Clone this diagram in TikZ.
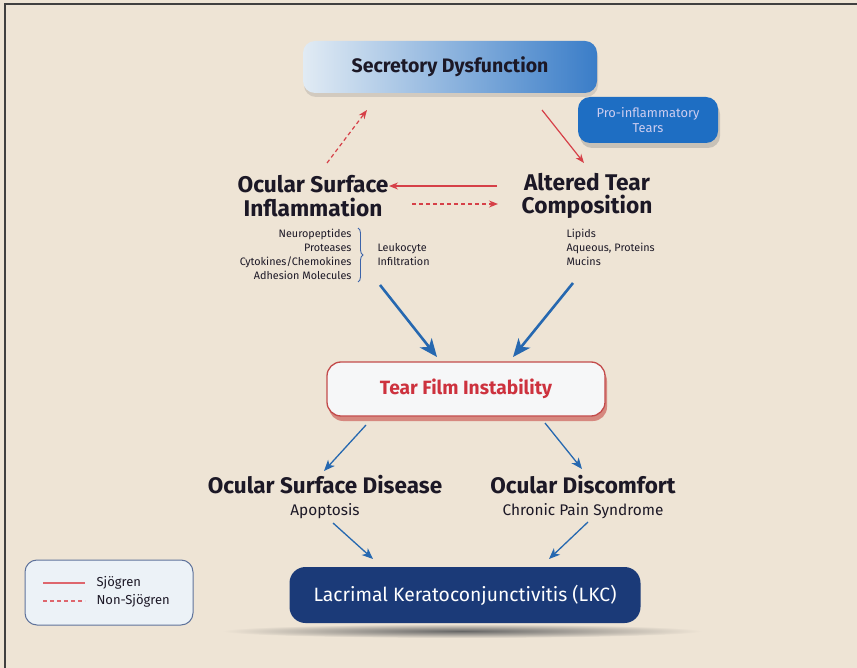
\documentclass[tikz,border=0pt]{standalone}
\usepackage{fontspec}
\setmainfont{Fira Sans}
\usetikzlibrary{arrows.meta,shadows,calc,decorations.pathreplacing}
\definecolor{bg}{RGB}{238,228,213}
\definecolor{redarr}{RGB}{214,64,72}
\definecolor{bluearr}{RGB}{38,104,176}
\definecolor{navy}{RGB}{27,58,120}
\definecolor{protears}{RGB}{30,110,195}
\definecolor{txtdark}{RGB}{28,24,38}
\definecolor{tfired}{RGB}{205,50,62}
\definecolor{sdblue}{RGB}{58,125,200}
\definecolor{sdlight}{RGB}{225,235,244}
\definecolor{legfill}{RGB}{236,242,247}
\definecolor{legdraw}{RGB}{95,115,155}
\definecolor{braceblue}{RGB}{60,100,170}
\tikzset{
  heading/.style={font=\fontsize{22.7}{23.5}\selectfont\bfseries, text=txtdark, align=center},
  subhead/.style={font=\fontsize{22.5}{24}\selectfont\bfseries, text=txtdark},
  subtext/.style={font=\fontsize{15.4}{16}\selectfont, text=txtdark},
  smalltxt/.style={font=\fontsize{10.8}{14}\selectfont, text=txtdark},
  legtxt/.style={font=\fontsize{13}{14}\selectfont, text=txtdark, anchor=west},
  sjarrow/.style={draw=redarr, line width=1.2pt, -{Stealth[length=9pt,width=7pt]}},
  nsjarrow/.style={sjarrow, dash pattern=on 4pt off 3pt},
  bigblue/.style={draw=bluearr, line width=2.6pt, -{Stealth[length=18pt,width=15pt,inset=5pt]}},
  thinblue/.style={draw=bluearr, line width=1.3pt, -{Stealth[length=11pt,width=9pt,inset=3pt]}},
}
\begin{document}
\begin{tikzpicture}[x=1pt,y=-1pt]
\useasboundingbox (0,0) rectangle (857,668);
\fill[bg] (0,0) rectangle (857,668);
\draw[black!75, line width=1.6pt] (5,668) -- (5,4) -- (857,4);

% Secretory Dysfunction
\node[rounded corners=12pt, minimum width=294pt, minimum height=52pt,
      left color=sdlight, right color=sdblue,
      drop shadow={opacity=0.25, shadow xshift=1pt, shadow yshift=-4pt},
      font=\fontsize{19.5}{21}\selectfont\bfseries, text=txtdark] (sd) at (450,67) {Secretory Dysfunction};

% Pro-inflammatory Tears
\node[rounded corners=12pt, minimum width=140pt, minimum height=46pt, fill=protears,
      drop shadow={opacity=0.35, shadow xshift=2pt, shadow yshift=-5pt},
      align=center, font=\fontsize{12.9}{15}\selectfont, text={rgb,255:red,205;green,205;blue,240}] (pt) at (648,120) {Pro-inflammatory\\Tears};

% headings
\node[heading] (osi) at (313,196) {Ocular Surface\\Inflammation};
\node[heading] (atc) at (587,196) {Altered Tear\\Composition};

% arrows top
\coordinate (a1s) at (327,163); \coordinate (a1e) at (367,110);
\draw[nsjarrow] (a1s) -- (a1e);
\coordinate (a2s) at (542,110); \coordinate (a2e) at (584,163);
\draw[sjarrow] (a2s) -- (a2e);
\coordinate (a3s) at (497,186); \coordinate (a3e) at (389,186);
\draw[sjarrow] (a3s) -- (a3e);
\coordinate (a4s) at (412,204); \coordinate (a4e) at (498,204);
\draw[nsjarrow] (a4s) -- (a4e);

% left list
\node[smalltxt, anchor=north east, align=right] (llist) at (355,226) {Neuropeptides\\Proteases\\Cytokines/Chemokines\\Adhesion Molecules};
\draw[braceblue, line width=0.9pt, decorate, decoration={brace, amplitude=5pt}] (358,228) -- (358,282);
\node[smalltxt, anchor=west, align=left] (leuko) at (374,255) {Leukocyte\\Infiltration};
% right list
\node[smalltxt, anchor=north west, align=left] (rlist) at (563,226) {Lipids\\Aqueous, Proteins\\Mucins};

% Tear film instability
\node[rounded corners=14pt, minimum width=278pt, minimum height=54pt,
      fill={rgb,255:red,246;green,247;blue,248}, draw={rgb,255:red,195;green,75;blue,75}, line width=1.3pt,
      drop shadow={opacity=0.4, fill=red!70!black, shadow xshift=2pt, shadow yshift=-5pt},
      font=\fontsize{19.2}{20}\selectfont\bfseries, text=tfired] (tfi) at (466,389) {Tear Film Instability};

\coordinate (b1s) at (380,285); \coordinate (b1e) at (437,357);
\draw[bigblue] (b1s) -- (b1e);
\coordinate (b2s) at (573,283); \coordinate (b2e) at (513,357);
\draw[bigblue] (b2s) -- (b2e);

% second level
\node[subhead] (osd) at (325,485) {Ocular Surface Disease};
\node[subtext] (apo) at (325,511) {Apoptosis};
\node[subhead] (od) at (583,485) {Ocular Discomfort};
\node[subtext] (cps) at (583,511) {Chronic Pain Syndrome};

\coordinate (c1s) at (366,425); \coordinate (c1e) at (324,471);
\draw[thinblue] (c1s) -- (c1e);
\coordinate (c2s) at (545,423); \coordinate (c2e) at (582,469);
\draw[thinblue] (c2s) -- (c2e);

% LKC shadow
\shade[inner color=black!60, outer color=bg] (462,631) ellipse (240pt and 7pt);
\node[rounded corners=16pt, minimum width=351pt, minimum height=56pt, fill=navy,
      font=\fontsize{19.3}{20}\selectfont, text=white] (lkc) at (465,595) {Lacrimal Keratoconjunctivitis (LKC)};

\coordinate (d1s) at (333,523); \coordinate (d1e) at (373,559);
\draw[thinblue] (d1s) -- (d1e);
\coordinate (d2s) at (588,522); \coordinate (d2e) at (549,559);
\draw[thinblue] (d2s) -- (d2e);

% legend
\node[rounded corners=12pt, minimum width=168pt, minimum height=65pt, fill=legfill, draw=legdraw, line width=1pt] (leg) at (109,592.5) {};
\coordinate (l1s) at (43,583); \coordinate (l1e) at (85,583);
\draw[draw=redarr!80, line width=1.1pt] (l1s) -- (l1e);
\coordinate (l2s) at (43,601); \coordinate (l2e) at (85,601);
\draw[draw=redarr!80, line width=1.1pt, dash pattern=on 4pt off 3pt] (l2s) -- (l2e);
\node[legtxt] (sj) at (93,583) {Sjögren};
\node[legtxt] (nsj) at (93,601) {Non-Sjögren};
\end{tikzpicture}
\end{document}
